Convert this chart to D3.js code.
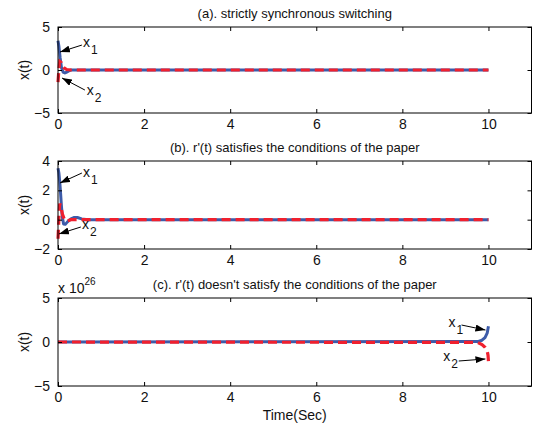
<!DOCTYPE html>
<html><head><meta charset="utf-8">
<script src="https://cdn.jsdelivr.net/npm/d3@7"></script>
<style>body{margin:0;background:#fff}svg{display:block}text{font-family:"Liberation Sans",Arial,Helvetica,sans-serif}</style>
</head><body><svg id="c" width="539" height="431"></svg>
<script>
// ---- data ----
const xTicks = [0, 2, 4, 6, 8, 10];
const titles = ["(a). strictly synchronous switching",
                "(b). r'(t) satisfies the conditions of the paper",
                "(c).  r'(t) doesn't satisfy the conditions of the paper"];
const yTicksA = [-5, 0, 5];
const yTicksB = [-2, 0, 2, 4];
const yTicksC = [-5, 0, 5];
// panel (a)
const tA1 = [0, 0.02, 0.05, 0.08, 0.12, 0.16, 0.2, 0.25, 0.3, 0.4, 10];
const x1A = [3.4, 2.8, 1.4, 0.3, -0.25, -0.35, -0.25, -0.1, 0, 0, 0];
const tA2 = [0, 0.02, 0.04, 0.07, 0.1, 0.14, 0.2, 0.3, 10];
const x2A = [-1.4, 0, 1.0, 0.9, 0.5, 0.25, 0.05, 0, 0];
// panel (b)
const tB1 = [0, 0.02, 0.04, 0.06, 0.08, 0.1, 0.13, 0.17, 0.22, 0.3, 0.38, 0.45, 0.55, 0.7, 10];
const x1B = [3.5, 3.2, 2.6, 1.8, 0.9, 0.2, -0.3, -0.32, -0.15, 0.05, 0.15, 0.15, 0.05, 0, 0];
const tB2 = [0, 0.02, 0.04, 0.07, 0.1, 0.15, 0.2, 0.3, 10];
const x2B = [-1.3, 0, 1.1, 0.9, 0.4, 0, -0.1, 0, 0];
// panel (c), values x 10^26
const tC1 = [0, 9.75, 9.85, 9.92, 9.97, 10];
const x1C = [0, 0.05, 0.2, 0.5, 1.0, 1.8];
const tC2 = [0, 9.75, 9.85, 9.92, 9.97, 9.99, 10];
const x2C = [0, -0.05, -0.3, -0.6, -1.0, -1.5, -2.2];
// annotations: [tailT, tailY, tipT, tipY, labelT, labelY, sub]
const annA = [[0.555, 2.9, 0.046, 2.09, 0.58, 2.7, "1"], [0.625, -2.33, 0.093, -0.93, 0.67, -2.9, "2"]];
const annB = [[0.555, 3.18, 0.046, 2.5, 0.58, 2.9, "1"], [0.53, -0.5, 0.023, -0.97, 0.56, -0.65, "2"]];
const annC = [[9.375, 1.93, 9.93, 1.36, 9.07, 1.7, "1"], [9.31, -2.16, 9.93, -1.93, 8.95, -2.15, "2"]];

const panels = [
  {top: 27, bottom: 113, dom: [-5, 5], yt: yTicksA, s: [[tA1, x1A], [tA2, x2A]], ann: annA},
  {top: 161, bottom: 249, dom: [-2, 4], yt: yTicksB, s: [[tB1, x1B], [tB2, x2B]], ann: annB},
  {top: 298, bottom: 386, dom: [-5, 5], yt: yTicksC, s: [[tC1, x1C], [tC2, x2C]], ann: annC}
];
const blue = "#3d5ba9", red = "#f0202e";
const svg = d3.select("#c");
const left = 58, right = 531.5;
const x = d3.scaleLinear().domain([0, 11]).range([left, right]);
const fmt = d => d < 0 ? "\u2212" + Math.abs(d) : String(d);

svg.append("defs").append("marker").attr("id", "ah").attr("viewBox", "0 0 10 7")
  .attr("refX", 10).attr("refY", 3.5).attr("markerWidth", 10).attr("markerHeight", 7)
  .attr("markerUnits", "userSpaceOnUse").attr("orient", "auto")
  .append("path").attr("d", "M0,0 L10,3.5 L0,7 Z").attr("fill", "#000");

panels.forEach((p, i) => {
  const y = d3.scaleLinear().domain(p.dom).range([p.bottom, p.top]);
  const g = svg.append("g");
  // lines
  const line = d3.line().x(d => x(d[0])).y(d => y(d[1]));
  const blueData = d3.zip(p.s[0][0], p.s[0][1]);
  const redData = d3.zip(p.s[1][0], p.s[1][1]);
  g.append("path").attr("d", line(blueData)).attr("fill", "none").attr("stroke", blue)
    .attr("stroke-width", 3).attr("stroke-linejoin", "round");
  g.append("path").attr("d", line(redData)).attr("fill", "none").attr("stroke", red)
    .attr("stroke-width", 3.2).attr("stroke-dasharray", "9,5");
  // axes box
  g.append("rect").attr("x", left).attr("y", p.top).attr("width", right - left).attr("height", p.bottom - p.top)
    .attr("fill", "none").attr("stroke", "#000").attr("stroke-width", 1);
  const tk = 4;
  const bot = d3.axisBottom(x).tickValues(xTicks).tickSize(-tk).tickPadding(6).tickFormat(fmt);
  const ga = g.append("g").attr("transform", `translate(0,${p.bottom})`).call(bot);
  const gt = g.append("g").attr("transform", `translate(0,${p.top})`).call(d3.axisTop(x).tickValues(xTicks).tickSize(-tk).tickFormat(""));
  const gl = g.append("g").attr("transform", `translate(${left},0)`).call(d3.axisLeft(y).tickValues(p.yt).tickSize(-tk).tickPadding(8).tickFormat(fmt));
  const gr = g.append("g").attr("transform", `translate(${right},0)`).call(d3.axisRight(y).tickValues(p.yt).tickSize(-tk).tickFormat(""));
  [ga, gt, gl, gr].forEach(a => { a.select(".domain").remove(); a.selectAll("line").attr("stroke", "#000");
    a.selectAll("text").attr("font-size", 14).attr("fill", "#111").style("font-family", '"Liberation Sans",Arial,sans-serif'); });
  ga.selectAll("text").attr("dy", "0.71em");
  // title
  svg.append("text").attr("x", (left + right) / 2).attr("y", p.top - 9).attr("text-anchor", "middle")
    .attr("font-size", 13).attr("fill", "#111").text(titles[i]);
  // y label
  svg.append("text").attr("transform", `translate(29,${(p.top + p.bottom) / 2}) rotate(-90)`)
    .attr("text-anchor", "middle").attr("font-size", 14).attr("fill", "#111").text("x(t)");
  // annotations
  p.ann.forEach(a => {
    g.append("line").attr("x1", x(a[0])).attr("y1", y(a[1])).attr("x2", x(a[2])).attr("y2", y(a[3]))
      .attr("stroke", "#000").attr("stroke-width", 1).attr("marker-end", "url(#ah)");
    const t = g.append("text").attr("x", x(a[4])).attr("y", y(a[5])).attr("font-size", 14).attr("fill", "#111");
    t.append("tspan").text("x");
    t.append("tspan").attr("dx", 1).attr("dy", 7).attr("font-size", 12).text(a[6]);
  });
});
// exponent label for panel (c)
const ex = svg.append("text").attr("x", 58).attr("y", 293).attr("font-size", 14).attr("fill", "#111");
ex.append("tspan").text("x 10");
ex.append("tspan").attr("dy", -8).attr("font-size", 10).text("26");
// x label
svg.append("text").attr("x", (left + right) / 2).attr("y", 420).attr("text-anchor", "middle")
  .attr("font-size", 14).attr("fill", "#111").text("Time(Sec)");
</script></body></html>
